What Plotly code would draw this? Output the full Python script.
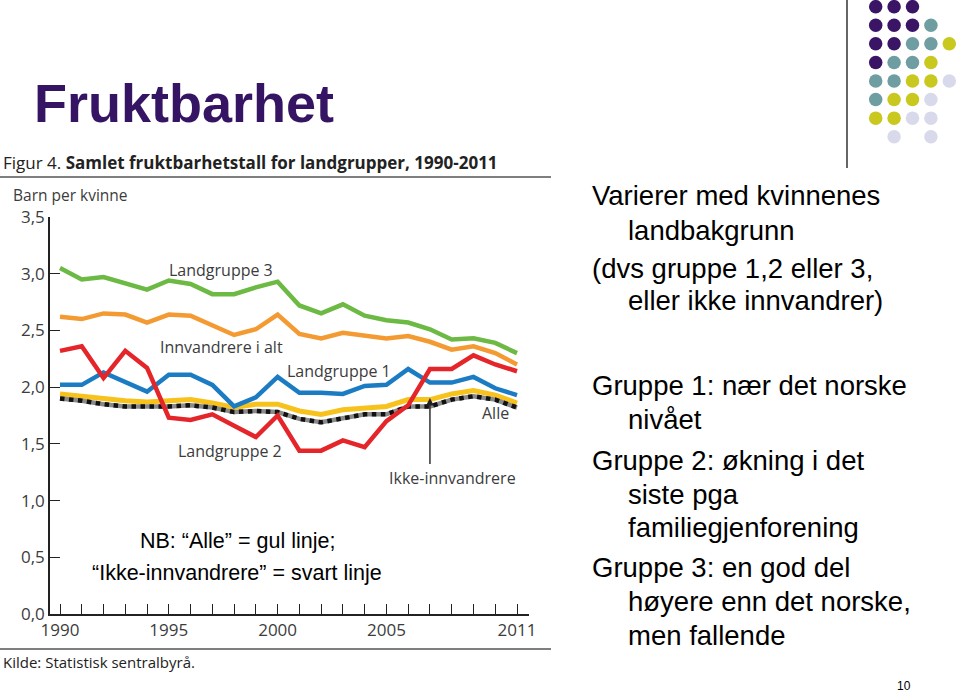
import plotly.graph_objects as go

# ---------------- data ----------------
years = list(range(1990, 2012))
landgruppe3 = [3.05, 2.95, 2.97, 2.91, 2.86, 2.94, 2.91, 2.82, 2.82, 2.88, 2.93,
               2.72, 2.65, 2.73, 2.63, 2.59, 2.57, 2.51, 2.42, 2.43, 2.39, 2.30]
innvandrere_i_alt = [2.62, 2.60, 2.65, 2.64, 2.57, 2.64, 2.63, 2.54, 2.46, 2.51, 2.64,
                     2.47, 2.43, 2.48, 2.45, 2.43, 2.45, 2.40, 2.33, 2.36, 2.30, 2.20]
landgruppe2 = [2.32, 2.36, 2.08, 2.32, 2.17, 1.73, 1.71, 1.76, 1.66, 1.56, 1.75,
               1.44, 1.44, 1.53, 1.47, 1.70, 1.84, 2.16, 2.16, 2.28, 2.20, 2.14]
landgruppe1 = [2.02, 2.02, 2.13, 2.05, 1.96, 2.11, 2.11, 2.02, 1.83, 1.91, 2.09,
               1.95, 1.95, 1.94, 2.01, 2.02, 2.16, 2.04, 2.04, 2.09, 1.99, 1.93]
alle = [1.94, 1.92, 1.89, 1.88, 1.87, 1.88, 1.89, 1.86, 1.82, 1.85, 1.85,
        1.79, 1.76, 1.80, 1.82, 1.83, 1.89, 1.89, 1.94, 1.97, 1.93, 1.86]
ikke_innvandrere = [1.90, 1.88, 1.85, 1.83, 1.83, 1.83, 1.84, 1.82, 1.78, 1.79, 1.78,
                    1.72, 1.69, 1.73, 1.76, 1.76, 1.83, 1.83, 1.89, 1.92, 1.89, 1.82]

y_tickvals = [0, 0.5, 1.0, 1.5, 2.0, 2.5, 3.0, 3.5]
y_ticktext = ["0,0", "0,5", "1,0", "1,5", "2,0", "2,5", "3,0", "3,5"]
x_tickvals = [1990, 1995, 2000, 2005, 2011]
x_ticktext = ["1990", "1995", "2000", "2005", "2011"]

# decorative dot lattice (P=purple, T=teal, Y=yellow-green, L=lavender)
dot_rows = ["PPP..", "PPPT.", "PPTTY", "PTTY.", "TTYYL", "TYYL.", "YYLL.", ".L.L."]
dot_colors = {"P": "#3a1566", "T": "#6f9ea2", "Y": "#c9c81e", "L": "#d9d9ec"}

right_lines = [
    ("Varierer med kvinnenes", 0, 196),
    ("landbakgrunn", 1, 230),
    ("(dvs gruppe 1,2 eller 3,", 0, 268),
    ("eller ikke innvandrer)", 1, 301),
    ("Gruppe 1: nær det norske", 0, 385),
    ("nivået", 1, 419),
    ("Gruppe 2: økning i det", 0, 460),
    ("siste pga", 1, 494),
    ("familiegjenforening", 1, 527),
    ("Gruppe 3: en god del", 0, 567),
    ("høyere enn det norske,", 1, 601),
    ("men fallende", 1, 635),
]

W, H = 960, 694
CHART_FONT = "Open Sans"
GREY = "#3c3c3c"

fig = go.Figure()

# ---------------- series ----------------
fig.add_trace(go.Scatter(x=years, y=landgruppe3, mode="lines", name="Landgruppe 3",
                         line=dict(color="#6cb944", width=4.5)))
fig.add_trace(go.Scatter(x=years, y=innvandrere_i_alt, mode="lines", name="Innvandrere i alt",
                         line=dict(color="#f49a33", width=4.5)))
fig.add_trace(go.Scatter(x=years, y=alle, mode="lines", name="Alle",
                         line=dict(color="#f8c21c", width=5)))
fig.add_trace(go.Scatter(x=years, y=ikke_innvandrere, mode="lines", name="Ikke-innvandrere",
                         line=dict(color="#8a8a8a", width=4.5)))
fig.add_trace(go.Scatter(x=years, y=ikke_innvandrere, mode="lines", name="Ikke-innvandrere",
                         line=dict(color="#111111", width=4.5, dash="dot")))
fig.add_trace(go.Scatter(x=years, y=landgruppe1, mode="lines", name="Landgruppe 1",
                         line=dict(color="#1b7cc3", width=4.5)))
fig.add_trace(go.Scatter(x=years, y=landgruppe2, mode="lines", name="Landgruppe 2",
                         line=dict(color="#e4262a", width=4.5)))

# ---------------- decorative dots ----------------
dx, dy, dc = [], [], []
for r, row in enumerate(dot_rows):
    for c, ch in enumerate(row):
        if ch != ".":
            dx.append(c)
            dy.append(r)
            dc.append(dot_colors[ch])
fig.add_trace(go.Scatter(x=dx, y=dy, mode="markers", xaxis="x2", yaxis="y2",
                         marker=dict(size=13.5, color=dc, line=dict(width=0)),
                         cliponaxis=False, hoverinfo="skip"))

# ---------------- axes geometry ----------------
px_per_year = 457 / 21.0
x_left_px, x_right_px = 50, 529
x0 = 1990 - (60 - x_left_px) / px_per_year
x1 = 1990 + (x_right_px - 60) / px_per_year
y_bottom_px, y_top_px = 614, 217

fig.update_layout(
    template="none",
    width=W, height=H,
    autosize=False,
    margin=dict(l=0, r=0, t=0, b=0, pad=0, autoexpand=False),
    paper_bgcolor="white", plot_bgcolor="white",
    font=dict(family=CHART_FONT, color=GREY),
    showlegend=False,
    xaxis=dict(
        domain=[x_left_px / W, x_right_px / W],
        range=[x0, x1],
        automargin=False,
        showgrid=False, zeroline=False,
        showline=True, linecolor="#222222", linewidth=1.5,
        ticks="inside", ticklen=10, tickwidth=1.3, tickcolor="#222222",
        tickvals=x_tickvals, ticktext=x_ticktext,
        tickfont=dict(family=CHART_FONT, size=17, color=GREY),
        minor=dict(tick0=1990, dtick=1, ticks="inside", ticklen=10,
                   tickwidth=1.3, tickcolor="#222222", showgrid=False),
        anchor="y",
    ),
    yaxis=dict(
        domain=[(H - y_bottom_px) / H, (H - y_top_px) / H],
        range=[0, 3.5],
        automargin=False,
        showgrid=False, zeroline=False,
        showline=True, linecolor="#222222", linewidth=1.5,
        ticks="inside", ticklen=10, tickwidth=1.3, tickcolor="#222222",
        tickvals=y_tickvals, ticktext=y_ticktext,
        tickfont=dict(family=CHART_FONT, size=17, color=GREY),
        anchor="x",
    ),
    xaxis2=dict(domain=[866.5 / W, 958.5 / W], range=[-0.5, 4.5], visible=False,
                automargin=False, anchor="y2", fixedrange=True),
    yaxis2=dict(domain=[(H - 146) / H, 1.0], range=[7.5, -0.361], visible=False,
                automargin=False, anchor="x2", fixedrange=True),
)

# ---------------- shapes ----------------
fig.add_shape(type="line", xref="paper", yref="paper",
              x0=0, x1=551 / W, y0=(H - 177) / H, y1=(H - 177) / H,
              line=dict(color="#555555", width=1.5))
fig.add_shape(type="line", xref="paper", yref="paper",
              x0=0, x1=551 / W, y0=(H - 649) / H, y1=(H - 649) / H,
              line=dict(color="#555555", width=1.5))
fig.add_shape(type="line", xref="paper", yref="paper",
              x0=847 / W, x1=847 / W, y0=(H - 168) / H, y1=1,
              line=dict(color="#333333", width=1.5))

# ---------------- text ----------------
ann = []


def ptxt(text, x, y, size, family, color, xanchor="left", yanchor="middle"):
    ann.append(dict(text=text, x=x / W, y=(H - y) / H, xref="paper", yref="paper",
                    showarrow=False, xanchor=xanchor, yanchor=yanchor,
                    font=dict(size=size, family=family, color=color)))


ptxt("<b>Fruktbarhet</b>", 32, 103, 54, "Liberation Sans, Arial", "#341463")
ptxt("Figur 4. <b>Samlet fruktbarhetstall for landgrupper, 1990-2011</b>", 1, 162, 17,
     CHART_FONT, "#222222")
ptxt("Barn per kvinne", 11, 195, 15.5, CHART_FONT, GREY)
ptxt("Kilde: Statistisk sentralbyrå.", 1, 662, 15, CHART_FONT, "#222222")
ptxt("NB: \u201cAlle\u201d = gul linje;", 237, 541, 21.5, "Liberation Sans, Arial", "#000000",
     xanchor="center")
ptxt("\u201cIkke-innvandrere\u201d = svart linje", 237, 573, 21.5, "Liberation Sans, Arial",
     "#000000", xanchor="center")
ptxt("10", 904, 686, 12, "Liberation Sans, Arial", "#000000", xanchor="center")

for text, indent, ypx in right_lines:
    ptxt(text, 590 + indent * 36, ypx, 27.5, "Liberation Sans, Arial", "#000000")

# series labels in data coordinates
series_labels = [
    ("Landgruppe 3", 1997.4, 3.03),
    ("Innvandrere i alt", 1997.4, 2.355),
    ("Landgruppe 1", 2002.8, 2.14),
    ("Landgruppe 2", 1997.8, 1.435),
    ("Ikke-innvandrere", 2008.05, 1.20),
    ("Alle", 2010.0, 1.77),
]
for text, xv, yv in series_labels:
    ann.append(dict(text=text, x=xv, y=yv, xref="x", yref="y", showarrow=False,
                    xanchor="center", yanchor="middle",
                    font=dict(size=16, family=CHART_FONT, color=GREY)))

ann.append(dict(text="", x=2007, y=1.905, xref="x", yref="y", ax=2007, ay=1.31,
                axref="x", ayref="y", showarrow=True, arrowhead=2, arrowsize=1.1,
                arrowwidth=1.4, arrowcolor="#222222", standoff=0))

fig.update_layout(annotations=ann)

# remove the default page margin so the 960x694 figure fills the window exactly
fig.write_html("out.html",
               config={"displayModeBar": False},
               post_script="document.body.style.margin='0px';"
                           "document.body.style.overflow='hidden';")
